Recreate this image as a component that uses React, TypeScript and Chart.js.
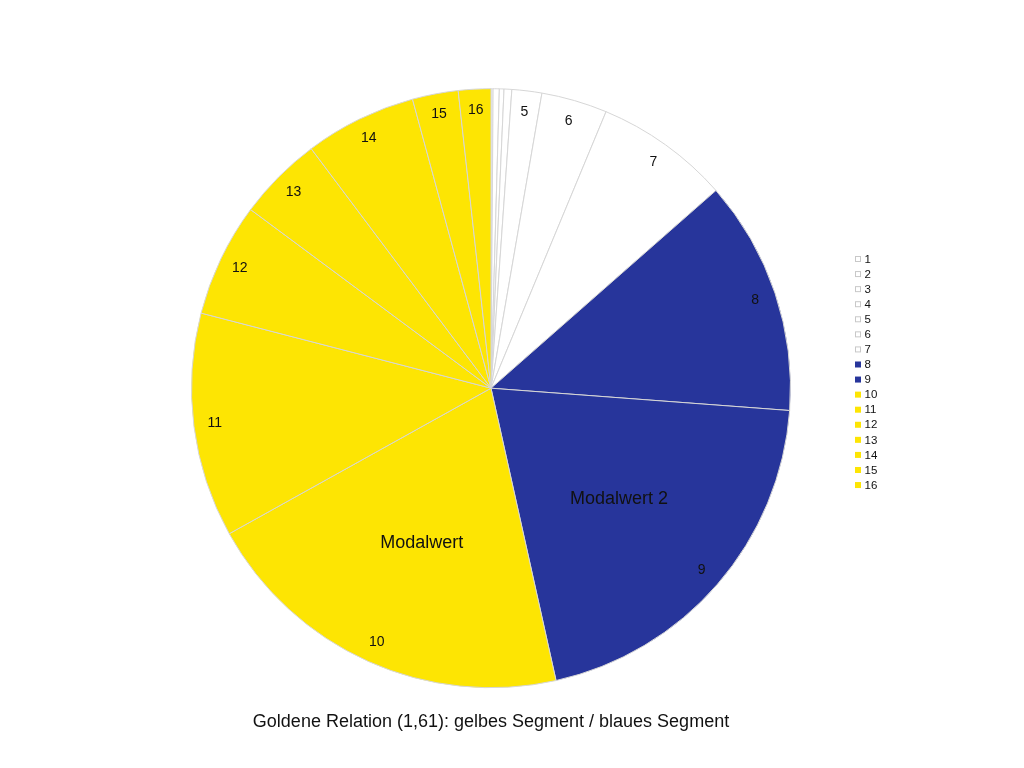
import { Chart, registerables, type ChartConfiguration, type Plugin } from 'chart.js'
import { useEffect, useRef } from 'react'

Chart.register(...registerables)

const categories = ['1', '2', '3', '4', '5', '6', '7', '8', '9', '10', '11', '12', '13', '14', '15', '16']
// slice sizes (degrees of the full circle)
const sliceValues = [0.4, 1.2, 0.9, 1.5, 5.8, 12.8, 26.1, 45.6, 73.2, 73.5, 43.6, 22.1, 16.5, 21.7, 8.9, 6.3]
const groups = ['w', 'w', 'w', 'w', 'w', 'w', 'w', 'b', 'b', 'y', 'y', 'y', 'y', 'y', 'y', 'y']
const notes: Record<string, string> = { '9': 'Modalwert 2', '10': 'Modalwert' }
const chartTitle = 'Goldene Relation (1,61): gelbes Segment / blaues Segment'

const WHITE = '#ffffff'
const BLUE = '#27359b'
const YELLOW = '#fde503'
const FONT = '"Liberation Sans", Arial, Helvetica, sans-serif'

const fillFor = (g: string) => (g === 'b' ? BLUE : g === 'y' ? YELLOW : WHITE)
const colors = groups.map(fillFor)

const sliceLabels: Plugin<'pie'> = {
  id: 'sliceLabels',
  afterDatasetsDraw(chart) {
    const ctx = chart.ctx
    const meta = chart.getDatasetMeta(0)
    ctx.save()
    ctx.textAlign = 'center'
    ctx.textBaseline = 'middle'
    ctx.fillStyle = '#111111'
    meta.data.forEach((el, i) => {
      const { x, y, startAngle, endAngle, outerRadius } = el.getProps(
        ['x', 'y', 'startAngle', 'endAngle', 'outerRadius'],
        true,
      ) as { x: number; y: number; startAngle: number; endAngle: number; outerRadius: number }
      const mid = (startAngle + endAngle) / 2
      if (sliceValues[i] > 3) {
        ctx.font = `14px ${FONT}`
        const r = outerRadius * 0.93
        ctx.fillText(categories[i], x + Math.cos(mid) * r, y + Math.sin(mid) * r)
      }
      const note = notes[categories[i]]
      if (note) {
        ctx.font = `18px ${FONT}`
        const r = outerRadius * 0.565
        ctx.fillText(note, x + Math.cos(mid) * r, y + Math.sin(mid) * r)
      }
    })
    ctx.restore()
  },
}

const sideLegend: Plugin<'pie'> = {
  id: 'sideLegend',
  afterDraw(chart) {
    const ctx = chart.ctx
    ctx.save()
    ctx.font = `11.5px ${FONT}`
    ctx.textAlign = 'left'
    ctx.textBaseline = 'middle'
    categories.forEach((label, i) => {
      const cy = 259 + i * 15.07
      ctx.fillStyle = colors[i]
      ctx.fillRect(855, cy - 3, 6, 6)
      if (groups[i] === 'w') {
        ctx.strokeStyle = '#c8c8c8'
        ctx.lineWidth = 1
        ctx.strokeRect(855.5, cy - 2.5, 5, 5)
      }
      ctx.fillStyle = '#111111'
      ctx.fillText(label, 864.5, cy + 0.5)
    })
    ctx.restore()
  },
}

const chartConfig: ChartConfiguration<'pie'> = {
  type: 'pie',
  data: {
    labels: categories,
    datasets: [
      {
        data: sliceValues,
        backgroundColor: colors,
        borderColor: '#d6d6d6',
        borderWidth: 1,
      },
    ],
  },
  options: {
    responsive: true,
    maintainAspectRatio: false,
    animation: false,
    layout: {
      padding: { left: 191, right: 233, top: 88, bottom: 35 },
    },
    plugins: {
      legend: { display: false },
      tooltip: { enabled: false },
      title: {
        display: true,
        position: 'bottom',
        text: chartTitle,
        color: '#111111',
        font: { family: FONT, size: 18, weight: 'normal', lineHeight: 1.2 },
        padding: { top: 23, bottom: 0 },
      },
    },
  },
  plugins: [sliceLabels, sideLegend],
}

export default function App() {
  const canvasRef = useRef<HTMLCanvasElement | null>(null)

  useEffect(() => {
    document.body.style.margin = '0'
    if (!canvasRef.current) {
      return
    }

    const chart = new Chart(canvasRef.current, chartConfig)

    return () => {
      chart.destroy()
    }
  }, [])

  return (
    <div style={{ position: 'relative', width: 1024, height: 768, background: '#ffffff' }}>
      <canvas ref={canvasRef} aria-label="Goldene Relation pie chart" />
    </div>
  )
}
